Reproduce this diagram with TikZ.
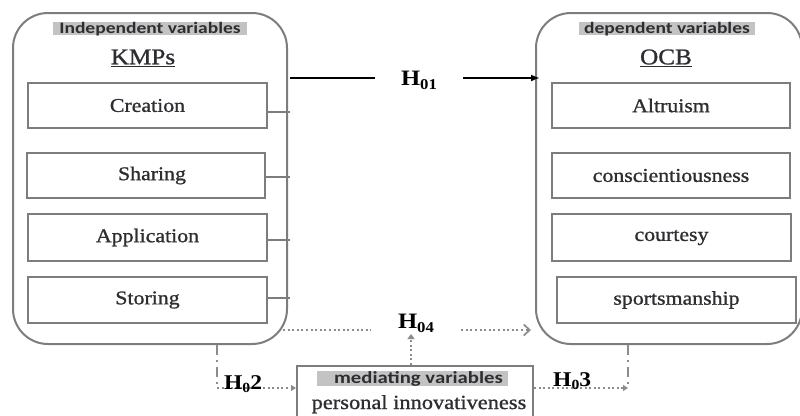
\documentclass[tikz,border=0pt]{standalone}
\usepackage{fontspec}
\setmainfont{Liberation Serif}
\newfontfamily\itemfont[FakeStretch=1.12,FakeBold=1.0]{Liberation Serif}
\newfontfamily\hfont[FakeStretch=1.12]{Liberation Serif}
\newfontfamily\headfont[FakeStretch=1.22]{Carlito}
\usetikzlibrary{arrows.meta}
\definecolor{boxgray}{RGB}{125,125,125}
\definecolor{dotgray}{RGB}{140,140,140}
\definecolor{headgray}{RGB}{195,195,195}
\definecolor{textcol}{RGB}{45,45,50}
\tikzset{
  bigbox/.style={draw=boxgray, line width=2pt, rounded corners=35pt, inner sep=0pt},
  itembox/.style={draw=boxgray, line width=2.3pt, minimum width=239pt, minimum height=45pt, inner sep=0pt,
    font=\itemfont\fontsize{19.5}{22}\selectfont, text=textcol},
  hdr/.style={fill=headgray, inner xsep=2pt, inner ysep=0pt, text height=11pt, text depth=2pt,
    font=\headfont\bfseries\fontsize{16}{18}\selectfont, text=textcol},
  title/.style={inner sep=0pt, font=\itemfont\fontsize{22.5}{26}\selectfont, text=textcol},
  conn/.style={draw=boxgray, line width=2pt},
  dotln/.style={draw=dotgray, line width=1.7pt, dash pattern=on 2pt off 2.6pt},
  dashdotln/.style={draw=dotgray, line width=2pt, dash pattern=on 10pt off 5pt on 2pt off 5pt},
  hlabel/.style={inner sep=0pt, font=\hfont\bfseries\fontsize{22}{24}\selectfont, text=black},
  hsmall/.style={inner sep=0pt, font=\hfont\bfseries\fontsize{21}{24}\selectfont, text=black},
}
\newcommand\hsub[1]{\raisebox{-4pt}{\fontsize{15}{16}\selectfont #1}}
\begin{document}
\begin{tikzpicture}[x=1pt,y=-1pt]
\clip (0,0) rectangle (800,415);
\fill[white] (0,0) rectangle (800,415);

% big rounded boxes
\node[bigbox, minimum width=274pt, minimum height=331pt] (kmp) at (150,178.5) {};
\node[bigbox, minimum width=266pt, minimum height=331pt] (ocb) at (669,178.5) {};

% headers
\node[hdr, minimum width=194pt] (indep) at (150,28.5) {Independent variables};
\node[hdr, minimum width=176pt] (dep) at (667,28.5) {dependent variables};
\node[title] (kmptitle) at (143,58) {\underline{KMPs}};
\node[title] (ocbtitle) at (666,58) {\underline{OCB}};

% left items
\node[itembox] (creation) at (147.5,105.5) {Creation};
\node[itembox, minimum width=238pt] (sharing) at (146,175.5) {\hspace{12pt}Sharing};
\node[itembox, minimum height=47pt] (application) at (147.5,237.5) {Application};
\node[itembox, minimum height=46pt] (storing) at (147.5,300) {Storing};

% right items
\node[itembox, minimum width=238pt] (altruism) at (671,105.5) {Altruism\hspace{10pt}};
\node[itembox, minimum width=238pt] (consc) at (671,175.5) {conscientiousness};
\node[itembox, minimum height=47pt] (courtesy) at (671.5,237.5) {courtesy\hspace{22pt}};
\node[itembox, minimum height=46pt] (sports) at (676.5,300) {sportsmanship};

% item connectors to box edge
\draw[conn] (creation.east |- 0,112) -- ([xshift=2pt]kmp.east |- 0,112);
\draw[conn] (sharing.east |- 0,177) -- ([xshift=2pt]kmp.east |- 0,177);
\draw[conn] (application.east |- 0,240) -- ([xshift=2pt]kmp.east |- 0,240);
\draw[conn] (storing.east |- 0,298) -- ([xshift=2pt]kmp.east |- 0,298);

% H01
\node[hlabel, minimum width=88pt, anchor=base] (h01) at (419,85) {H\hsub{01}};
\draw[line width=2pt] ([xshift=2pt]kmp.east |- 0,78) -- (h01.west |- 0,78);
\draw[line width=2pt, -{Latex[length=9pt,width=7pt]}] (h01.east |- 0,78) -- ([xshift=5pt]ocb.west |- 0,78);

% mediating box
\node[draw=boxgray, line width=2pt, minimum width=236pt, minimum height=56pt, inner sep=0pt] (med) at (415,394) {};
\node[hdr, minimum width=191pt, font=\headfont\bfseries\fontsize{17}{19}\selectfont, text height=12pt, text depth=3pt] (medhead) at (412.5,378.5) {\hspace{12pt}mediating variables};
\node[inner sep=0pt, font=\itemfont\fontsize{20}{22}\selectfont, text=textcol, anchor=base] (medtext) at (419,409) {personal innovativeness};

% H04
\node[hlabel, minimum width=90pt, anchor=base] (h04) at (416,328) {H\hsub{04}};
\coordinate (h4s) at (283,330);
\coordinate (h4e) at (531,330);
\draw[dotln] (h4s) -- (h04.west |- h4s);
\draw[dotln, -{Straight Barb[length=6pt,width=11pt,line width=1.7pt]}] (h04.east |- h4s) -- (h4e);
\coordinate (h4up) at (411,334);
\draw[dotln, -{Triangle[length=5pt,width=7pt]}] (med.north -| h4up) -- (h4up);

% H02
\coordinate (c2) at (217,388);
\draw[dashdotln] (kmp.south -| c2) -- (c2);
\draw[dotln, -{Triangle[length=5pt,width=6pt]}] (c2) -- (med.west |- c2);
\node[hsmall, anchor=base west] (h02) at (224,389) {H\raisebox{-3pt}{\fontsize{14}{15}\selectfont 0}2};

% H03
\coordinate (c3) at (628,388);
\draw[dashdotln] (ocb.south -| c3) -- (c3);
\draw[dotln, -{Triangle[length=5pt,width=6pt]}] (med.east |- c3) -- (c3);
\node[hsmall, anchor=base west] (h03) at (553,386) {H\raisebox{-3pt}{\fontsize{14}{15}\selectfont 0}3};
\end{tikzpicture}
\end{document}
